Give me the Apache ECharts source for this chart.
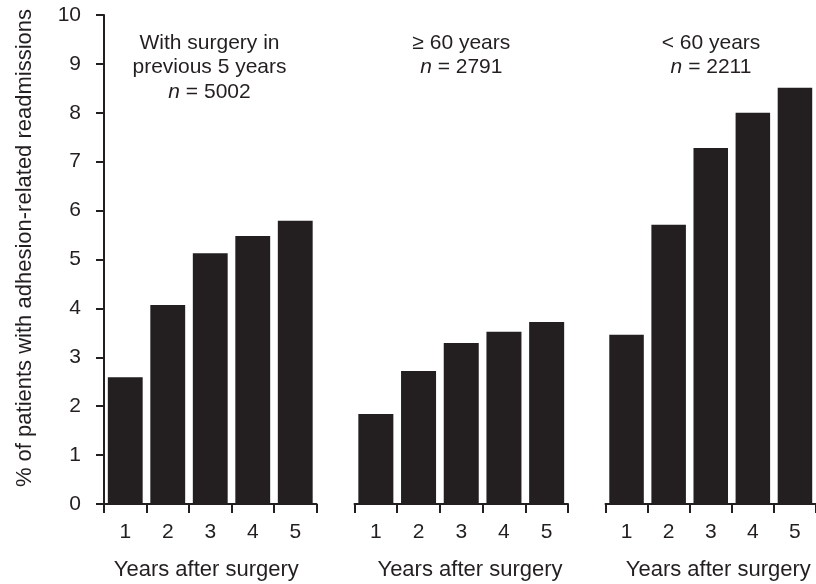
<!DOCTYPE html>
<html>
<head>
<meta charset="utf-8">
<script src="https://cdn.jsdelivr.net/npm/echarts@6/dist/echarts.min.js"></script>
<style>
html,body{margin:0;padding:0;background:#fff;}
#chart{width:816px;height:584px;}
</style>
</head>
<body>
<div id="chart"></div>
<script>
// ---- data ----
const years = ['1', '2', '3', '4', '5'];
const withSurgery = [2.59, 4.07, 5.13, 5.48, 5.79];
const age60Plus = [1.84, 2.72, 3.29, 3.52, 3.72];
const ageUnder60 = [3.46, 5.71, 7.28, 8.00, 8.51];
const panelTitles = [
  ['With surgery in', 'previous 5 years', '{i|n} = 5002'],
  ['\u2265 60 years', '{i|n} = 2791'],
  ['< 60 years', '{i|n} = 2211']
];
const yAxisTitle = '% of patients with adhesion-related readmissions';
const xAxisTitle = 'Years after surgery';

// ---- styling / layout ----
const INK = '#231f20';
const FONT = '"Liberation Sans", Arial, Helvetica, sans-serif';
const FS = 21;
const FS_AXIS_TITLE = 22;
const grids = [
  {left: 104, width: 212.5},
  {left: 354.5, width: 213.5},
  {left: 605.5, width: 213}
];
const seriesData = [withSurgery, age60Plus, ageUnder60];
const titleCenters = [209.5, 461.3, 711];
const xTitleCenters = [206.3, 470, 718.3];

const chart = echarts.init(document.getElementById('chart'), null, {renderer: 'canvas'});

const option = {
  backgroundColor: '#fff',
  animation: false,
  grid: grids.map(g => ({left: g.left, width: g.width, top: 15, bottom: 80, containLabel: false})),
  xAxis: grids.map((g, i) => ({
    type: 'category',
    gridIndex: i,
    data: years,
    boundaryGap: true,
    axisLine: {show: true, lineStyle: {color: INK, width: 2}},
    axisTick: {show: true, length: 9, inside: false, lineStyle: {color: INK, width: 2}},
    axisLabel: {color: INK, fontFamily: FONT, fontSize: FS, margin: 18},
    splitLine: {show: false}
  })),
  yAxis: grids.map((g, i) => ({
    type: 'value',
    gridIndex: i,
    min: 0, max: 10, interval: 1,
    show: i === 0,
    axisLine: {show: true, lineStyle: {color: INK, width: 2}},
    axisTick: {show: true, length: 8, inside: false, lineStyle: {color: INK, width: 2}},
    axisLabel: {color: INK, fontFamily: FONT, fontSize: FS, margin: 23},
    splitLine: {show: false}
  })),
  series: seriesData.map((d, i) => ({
    type: 'bar',
    xAxisIndex: i,
    yAxisIndex: i,
    data: d,
    barCategoryGap: '18%',
    itemStyle: {color: INK},
    silent: true
  })),
  graphic: []
};

// panel titles
panelTitles.forEach((lines, p) => {
  lines.forEach((line, k) => {
    option.graphic.push({
      type: 'text',
      x: titleCenters[p],
      y: 43 + k * 24.5,
      silent: true,
      style: {
        text: line,
        fill: INK,
        font: FS + 'px ' + FONT,
        align: 'center',
        verticalAlign: 'middle',
        rich: {i: {fontStyle: 'italic', fontSize: FS, fontFamily: FONT, fill: INK}}
      }
    });
  });
});

// x axis titles
xTitleCenters.forEach(cx => {
  option.graphic.push({
    type: 'text',
    x: cx,
    y: 570,
    silent: true,
    style: {text: xAxisTitle, fill: INK, font: FS_AXIS_TITLE + 'px ' + FONT, align: 'center', verticalAlign: 'middle'}
  });
});

// y axis title
option.graphic.push({
  type: 'text',
  x: 25,
  y: 248,
  rotation: Math.PI / 2,
  silent: true,
  style: {text: yAxisTitle, fill: INK, font: FS_AXIS_TITLE + 'px ' + FONT, align: 'center', verticalAlign: 'middle'}
});

chart.setOption(option);
</script>
</body>
</html>
